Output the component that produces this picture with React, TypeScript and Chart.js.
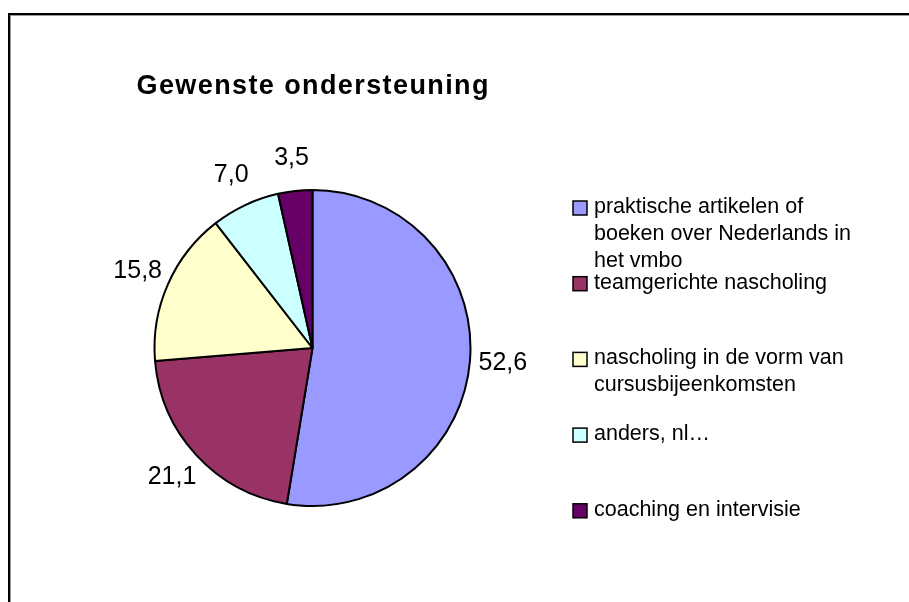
import React, { useEffect, useRef } from 'react';
import { Chart, registerables } from 'chart.js';

Chart.register(...registerables);

const chartTitle = 'Gewenste ondersteuning';
const categories: string[][] = [
  ['praktische artikelen of', 'boeken over Nederlands in', 'het vmbo'],
  ['teamgerichte nascholing'],
  ['nascholing in de vorm van', 'cursusbijeenkomsten'],
  ['anders, nl…'],
  ['coaching en intervisie'],
];
const values = [52.6, 21.1, 15.8, 7.0, 3.5];
const colors = ['#9999FF', '#993366', '#FFFFCC', '#CCFFFF', '#660066'];

const FONT = '"Liberation Sans", Arial, sans-serif';

const fmt = (v: number) => v.toFixed(1).replace('.', ',');

const decor = {
  id: 'decor',
  beforeDraw(chart: any) {
    const ctx = chart.ctx as CanvasRenderingContext2D;
    const W = chart.width;
    const H = chart.height;
    ctx.save();
    ctx.fillStyle = '#ffffff';
    ctx.fillRect(0, 0, W, H);
    ctx.fillStyle = '#000000';
    ctx.fillRect(8, 13, W - 8, 2);
    ctx.fillRect(8, 13, 2, H - 13);
    ctx.fillStyle = '#9a9a9a';
    ctx.fillRect(10, 15, W - 10, 1);
    ctx.fillRect(10, 15, 1, H - 15);
    ctx.restore();
  },
  afterDraw(chart: any) {
    const ctx = chart.ctx as CanvasRenderingContext2D;
    const meta = chart.getDatasetMeta(0);
    ctx.save();
    ctx.fillStyle = '#000000';

    // title
    const first = meta.data[0];
    const cx = first ? first.x : 312;
    ctx.font = `bold 27px ${FONT}`;
    (ctx as any).letterSpacing = '1.4px';
    ctx.textAlign = 'center';
    ctx.textBaseline = 'alphabetic';
    ctx.fillText(chartTitle, cx + 0.7, 94);

    // data labels
    ctx.font = `25px ${FONT}`;
    (ctx as any).letterSpacing = '0px';
    ctx.textAlign = 'center';
    ctx.textBaseline = 'middle';
    meta.data.forEach((arc: any, i: number) => {
      const p = arc.getProps(['x', 'y', 'startAngle', 'endAngle', 'outerRadius'], true);
      const mid = (p.startAngle + p.endAngle) / 2;
      const r = p.outerRadius + 33;
      ctx.fillText(fmt(values[i]), p.x + Math.cos(mid) * r, p.y + Math.sin(mid) * r);
    });

    // legend
    ctx.font = `21.5px ${FONT}`;
    (ctx as any).letterSpacing = '0px';
    ctx.textAlign = 'left';
    ctx.textBaseline = 'alphabetic';
    const legX = 573;
    const textX = 594;
    const baseY = 213;
    const itemStep = 75.7;
    const lineStep = 27;
    categories.forEach((lines, i) => {
      const by = baseY + i * itemStep;
      ctx.fillStyle = colors[i];
      ctx.fillRect(legX, by - 12, 14, 14);
      ctx.strokeStyle = '#000000';
      ctx.lineWidth = 1.5;
      ctx.strokeRect(legX, by - 12, 14, 14);
      ctx.fillStyle = '#000000';
      lines.forEach((ln, j) => {
        ctx.fillText(ln, textX, by + j * lineStep);
      });
    });
    ctx.restore();
  },
};

export default function App() {
  const ref = useRef<HTMLCanvasElement | null>(null);
  useEffect(() => {
    if (!ref.current) return;
    const chart = new Chart(ref.current, {
      type: 'pie',
      data: {
        labels: categories.map((c) => c.join(' ')),
        datasets: [
          {
            data: values,
            backgroundColor: colors,
            borderColor: '#000000',
            borderWidth: 2,
            radius: 158,
          } as any,
        ],
      },
      options: {
        animation: false,
        responsive: false,
        layout: { padding: { left: 154, right: 438, top: 190, bottom: 96 } },
        plugins: {
          legend: { display: false },
          title: { display: false },
          tooltip: { enabled: false },
        },
      } as any,
      plugins: [decor],
    });
    return () => chart.destroy();
  }, []);
  return (
    <div style={{ position: 'fixed', left: 0, top: 0, width: 909, height: 602 }}>
      <canvas ref={ref} width={909} height={602} style={{ display: 'block', width: 909, height: 602 }} />
    </div>
  );
}
